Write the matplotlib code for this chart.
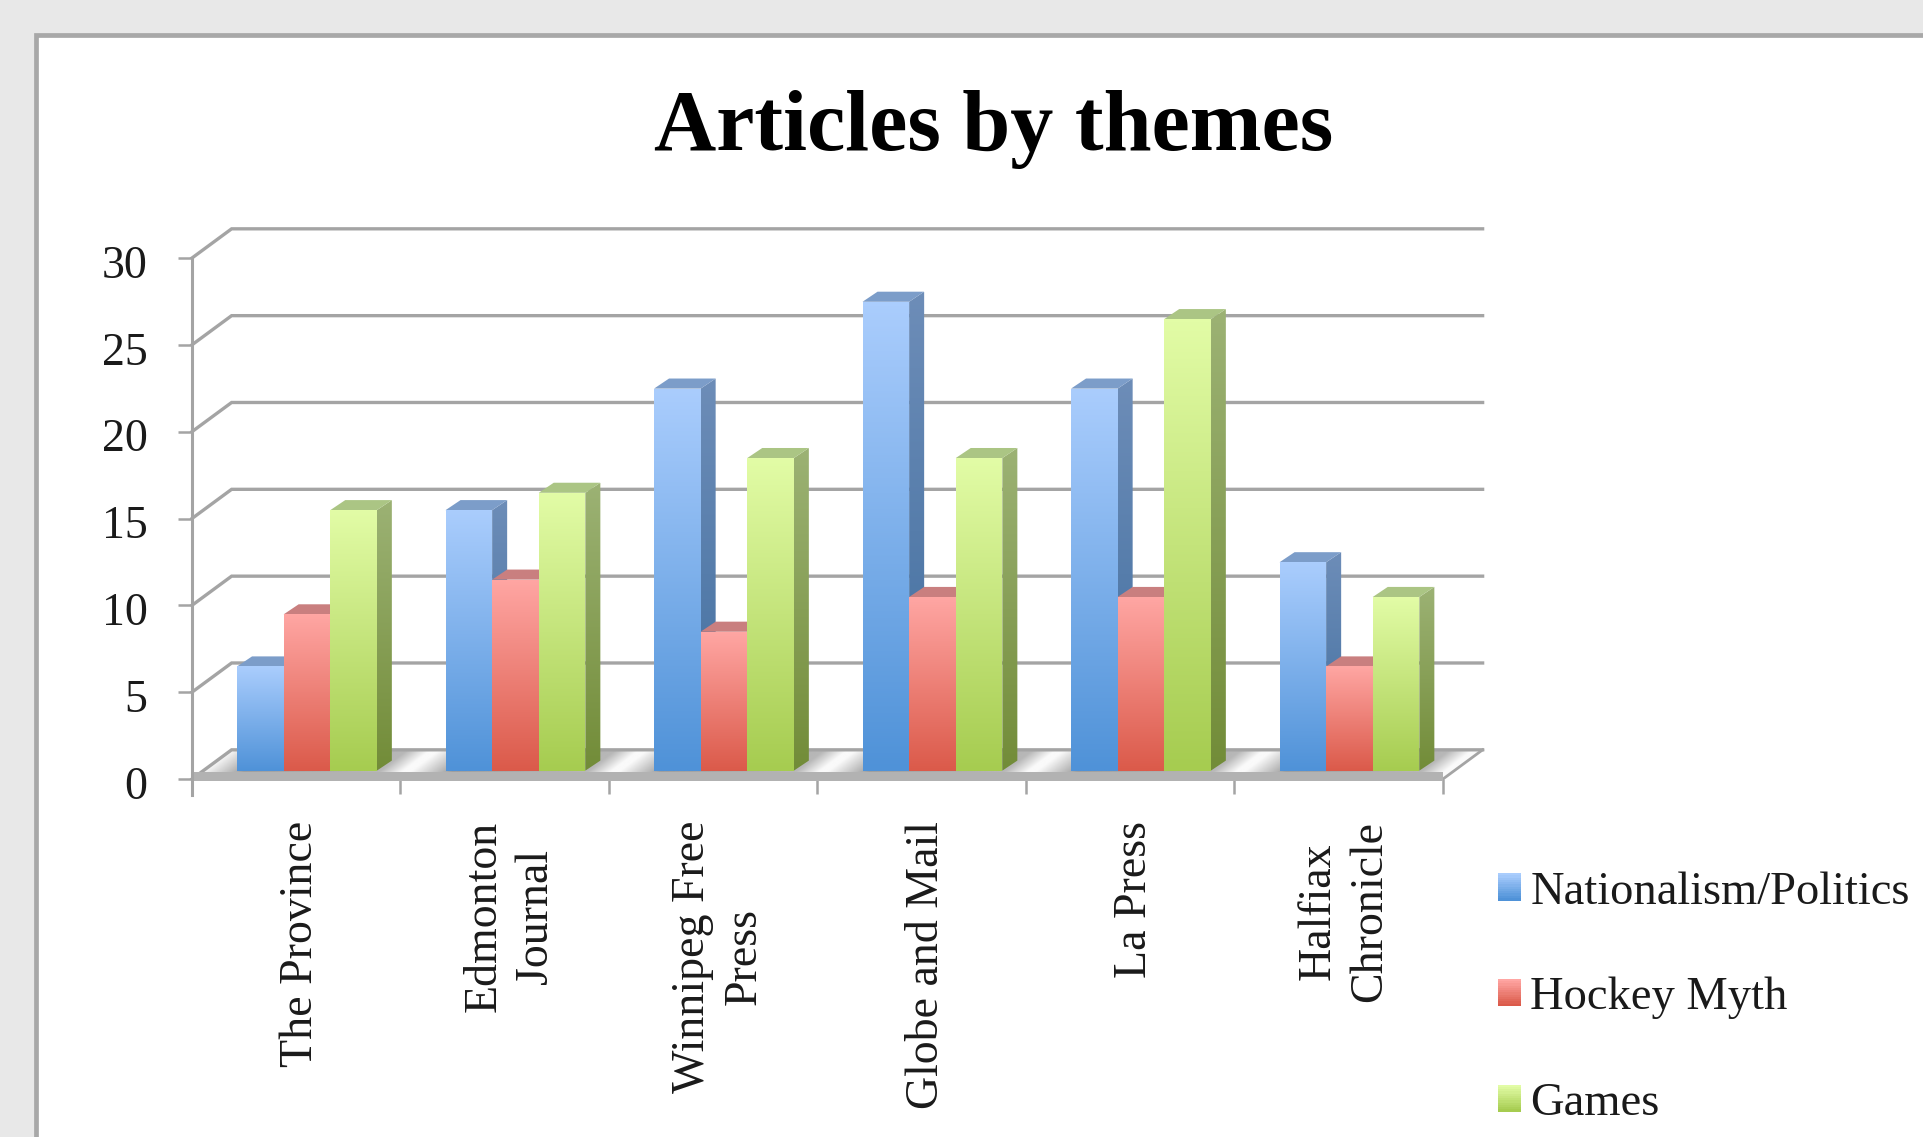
import numpy as np
import matplotlib
matplotlib.use("Agg")
import matplotlib.pyplot as plt
from matplotlib.colors import LinearSegmentedColormap as LSC
from matplotlib.legend_handler import HandlerBase
from matplotlib.patches import Patch, Polygon, Rectangle
from matplotlib.transforms import Affine2D

categories = ["The Province", "Edmonton\nJournal", "Winnipeg Free\nPress",
              "Globe and Mail", "La Press", "Halfiax\nChronicle"]
nationalism = [6, 15, 22, 27, 22, 12]
hockey = [9, 11, 8, 10, 10, 6]
games = [15, 16, 18, 18, 26, 10]
series_names = ["Nationalism/Politics", "Hockey Myth", "Games"]
y_ticks = [0, 5, 10, 15, 20, 25, 30]

W, H, DPI = 1924, 1137, 100
FONT = "Liberation Serif"
FS = 33
LINE = "#a4a4a4"
FRONT = {"Nationalism/Politics": ("#aacdfd", "#4f92d8"),
         "Hockey Myth": ("#ffa6a3", "#db5a4a"),
         "Games": ("#e2fca6", "#a6cc50")}
SIDE = {"Nationalism/Politics": ("#6d8db8", "#3f6d9e"),
        "Hockey Myth": ("#b06c6a", "#9a4a40"),
        "Games": ("#9cb274", "#728c38")}
TOP = {"Nationalism/Politics": "#7c9dc9",
       "Hockey Myth": "#c97f7f",
       "Games": "#abc584"}

fig = plt.figure(figsize=(W / DPI, H / DPI), dpi=DPI, facecolor="#e8e8e8")
fig.add_artist(Rectangle((35.5 / W, -0.1), 2, 1.1 - 35.5 / H, transform=fig.transFigure,
                         facecolor="white", edgecolor="#a8a8a8", linewidth=3.4, zorder=-1))
ax = fig.add_axes([192 / W, (H - 779) / H, 1251 / W, 521 / H])
ax.patch.set_alpha(0)
ax.set_xlim(0, 6)
ax.set_ylim(0, 30)
for s in ("top", "right", "bottom", "left"):
    ax.spines[s].set_visible(False)

# depth of the chart box and of the bars, in data units
DX, DY = 0.19, 1.68
BDX, BDY = 0.072, 0.58
BASE, LEFT, BW = 0.48, 0.216, 0.2235


def grad_poly(verts, top, bottom, z):
    """Polygon filled with a vertical gradient."""
    v = np.array(verts)
    poly = Polygon(v, closed=True, facecolor="none", edgecolor="none", zorder=z, clip_on=False)
    ax.add_patch(poly)
    cmap = LSC.from_list("g", [top, bottom])
    im = ax.imshow(np.linspace(0, 1, 128).reshape(-1, 1), cmap=cmap, aspect="auto", zorder=z,
                   extent=(v[:, 0].min(), v[:, 0].max(), v[:, 1].min(), v[:, 1].max()),
                   origin="upper", interpolation="bilinear")
    im.set_clip_path(poly)


# floor with soft shadows, sheared along the box depth
frac = np.linspace(0, 6, 1500) % 1
shade = np.interp(frac, [0, 0.2, 0.85, 0.96, 1], [0.98, 0.62, 0.72, 0.98, 0.98]).reshape(1, -1)
floor = ax.imshow(shade, cmap="gray", vmin=0, vmax=1, aspect="auto", extent=(0, 6, 0, 1),
                  origin="lower", zorder=1, interpolation="bilinear")
floor.set_transform(Affine2D.from_values(1, 0, DX, DY, 0, 0) + ax.transData)
floor.set_clip_on(False)

# back wall lines and their diagonals
for v in y_ticks:
    ax.plot([0, DX, 6 + DX], [v, v + DY, v + DY], color=LINE, lw=2.4, zorder=2,
            clip_on=False, solid_joinstyle="miter")
ax.plot([6, 6 + DX], [0, DY], color=LINE, lw=2.0, zorder=2, clip_on=False)
ax.add_patch(Polygon([(0, -0.12), (6, -0.12), (6, 0.42), (0, 0.42)], facecolor="#b2b2b2",
                     edgecolor="none", zorder=2, clip_on=False))

# bars: painter's order left to right
for i in range(len(categories)):
    for j, (name, vals) in enumerate(zip(series_names, (nationalism, hockey, games))):
        x0 = i + LEFT + j * BW
        x1 = x0 + BW
        h = vals[i]
        y1 = BASE + h
        z = 3 + i + j * 0.1
        grad_poly([(x1, BASE), (x1 + BDX, BASE + BDY), (x1 + BDX, y1 + BDY), (x1, y1)],
                  SIDE[name][0], SIDE[name][1], z)
        ax.add_patch(Polygon([(x0, y1), (x1, y1), (x1 + BDX, y1 + BDY), (x0 + BDX, y1 + BDY)],
                             facecolor=TOP[name], edgecolor="none", zorder=z, clip_on=False))
        ax.bar(x0, h, BW, bottom=BASE, align="edge", color=FRONT[name][1], zorder=z + 0.01,
               clip_on=False)
        grad_poly([(x0, BASE), (x1, BASE), (x1, y1), (x0, y1)],
                  FRONT[name][0], FRONT[name][1], z + 0.02)

ax.set_xlim(0, 6)
ax.set_ylim(0, 30)

# axes
ax.plot([0, 0], [30, -0.9], color=LINE, lw=2.2, zorder=2, clip_on=False)
ax.set_yticks(y_ticks)
ax.set_yticklabels([str(v) for v in y_ticks], fontfamily=FONT, fontsize=FS, color="#1a1a1a")
ax.tick_params(axis="y", length=10, width=1.8, color=LINE, pad=22)
for t in ax.get_yticklabels():
    t.set_transform(t.get_transform() + Affine2D().translate(0, -3.5))
ax.set_xticks(range(7))
ax.set_xticklabels([])
ax.tick_params(axis="x", which="major", length=11, width=1.8, color=LINE)
ax.set_xticks(np.arange(6) + 0.5, labels=categories, minor=True)
ax.tick_params(axis="x", which="minor", length=0, pad=30)
for t in ax.get_xticklabels(minor=True):
    t.set(rotation=90, ha="center", va="top", multialignment="center", fontfamily=FONT,
          fontsize=FS, color="#1a1a1a", linespacing=1.28)
    t.set_transform(t.get_transform() + Affine2D().translate(5, 0))

ax.set_title("Articles by themes", x=0.641, y=1.192, va="baseline", fontfamily=FONT,
             fontweight="bold", fontsize=62, color="black")


class GradientHandler(HandlerBase):
    def create_artists(self, legend, orig, xd, yd, width, height, fontsize, trans):
        cmap = LSC.from_list("g", FRONT[orig.get_label()])
        n = 12
        return [Rectangle((-xd, -yd + height * (n - 1 - k) / n), width, height / n + 0.3,
                          facecolor=cmap(k / (n - 1)), edgecolor="none", transform=trans)
                for k in range(n)]


handles = [Patch(label=n) for n in series_names]
leg = ax.legend(handles=handles, loc="upper left", bbox_to_anchor=(1498 / W, (H - 871) / H),
                bbox_transform=fig.transFigure, frameon=False, borderpad=0, borderaxespad=0,
                handler_map={Patch: GradientHandler()}, prop={"family": FONT, "size": 33.5},
                handlelength=0.495, handleheight=0.52, handletextpad=0.2, labelspacing=1.36)
for t in leg.get_texts():
    t.set_color("#1a1a1a")

fig.savefig("out.png", dpi=DPI, facecolor=fig.get_facecolor())
